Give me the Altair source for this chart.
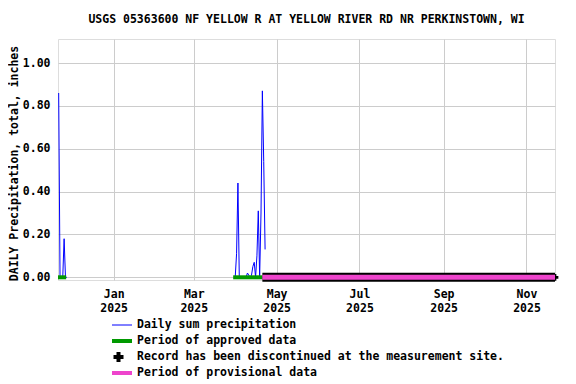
import altair as alt
import pandas as pd

FONT = "DejaVu Sans Mono"
TITLE = "USGS 05363600 NF YELLOW R AT YELLOW RIVER RD NR PERKINSTOWN, WI"
Y_TITLE = "DAILY Precipitation, total, inches"

# Daily sum precipitation (inches), two reporting segments
precip_dates_1 = ["2024-11-21", "2024-11-22", "2024-11-23", "2024-11-24",
                  "2024-11-25", "2024-11-26", "2024-11-27"]
precip_values_1 = [0.86, 0.0, 0.0, 0.0, 0.18, 0.0, 0.0]

precip_dates_2 = ["2025-03-30", "2025-03-31", "2025-04-01", "2025-04-02",
                  "2025-04-03", "2025-04-04", "2025-04-05", "2025-04-06",
                  "2025-04-07", "2025-04-08", "2025-04-09", "2025-04-10",
                  "2025-04-11", "2025-04-12", "2025-04-13", "2025-04-14",
                  "2025-04-15", "2025-04-16", "2025-04-17", "2025-04-18",
                  "2025-04-19", "2025-04-20", "2025-04-21", "2025-04-22"]
precip_values_2 = [0.0, 0.0, 0.11, 0.44, 0.0, 0.0, 0.0, 0.0,
                   0.0, 0.0, 0.02, 0.01, 0.0, 0.01, 0.05, 0.07,
                   0.0, 0.10, 0.31, 0.0, 0.30, 0.87, 0.54, 0.13]

approved_start = ["2024-11-21T00:00:00Z", "2025-03-30T00:00:00Z"]
approved_end = ["2024-11-27T00:00:00Z", "2025-04-20T12:00:00Z"]
provisional_start = ["2025-04-20T12:00:00Z"]
provisional_end = ["2025-11-22T00:00:00Z"]
discontinued_date = ["2025-11-22T00:00:00Z"]

x_domain = ["2024-11-21", "2025-11-22"]
x_tick_dates = ["2025-01-01", "2025-03-01", "2025-05-01",
                "2025-07-01", "2025-09-01", "2025-11-01"]
y_domain = [-0.0126, 1.112]
y_ticks = [0.0, 0.2, 0.4, 0.6, 0.8, 1.0]

legend_labels = ["Daily sum precipitation",
                 "Period of approved data",
                 "Record has been discontinued at the measurement site.",
                 "Period of provisional data"]


def ms(s):
    return int(pd.Timestamp(s, tz="UTC").value // 10**6)


precip_df = pd.DataFrame({
    "date": [d + "T12:00:00Z" for d in precip_dates_1 + precip_dates_2],
    "value": precip_values_1 + precip_values_2,
    "segment": [1] * len(precip_dates_1) + [2] * len(precip_dates_2),
})
approved_df = pd.DataFrame({"start": approved_start, "end": approved_end,
                            "value": [0.0] * len(approved_start)})
prov_df = pd.DataFrame({"start": provisional_start, "end": provisional_end,
                        "value": [0.0]})
disc_df = pd.DataFrame({"date": discontinued_date, "value": [0.0]})

x_scale = alt.Scale(type="utc", domain=[ms(d) for d in x_domain], nice=False)
y_scale = alt.Scale(domain=y_domain, nice=False, zero=False)

x_axis = alt.Axis(
    values=[ms(d) for d in x_tick_dates],
    labelExpr="[utcFormat(datum.value, '%b'), utcFormat(datum.value, '%Y')]",
    title=None, grid=True, gridColor="#cccccc", gridWidth=1,
    ticks=False, domain=False, labelFont=FONT, labelFontSize=11.5,
    labelFontWeight="bold", labelColor="black", labelPadding=8,
    labelLineHeight=14, labelAlign="center", labelBaseline="top",
    labelFlush=False, labelOverlap=False,
)
y_axis = alt.Axis(
    values=y_ticks, format=".2f", title=Y_TITLE, grid=True,
    gridColor="#cccccc", gridWidth=1, ticks=False, domain=False,
    labelFont=FONT, labelFontSize=11.5, labelFontWeight="bold",
    labelColor="black", labelPadding=8, labelOverlap=False,
    titleFont=FONT, titleFontSize=11.5, titleFontWeight="bold",
    titleColor="black", titleAngle=270, titleX=-44, titleY=124,
    titleAlign="center", titleBaseline="middle",
)

line = alt.Chart(precip_df).mark_line(color="#0000ff", strokeWidth=1, clip=True).encode(
    x=alt.X("date:T", scale=x_scale, axis=x_axis),
    y=alt.Y("value:Q", scale=y_scale, axis=y_axis),
    detail="segment:N",
)

approved = alt.Chart(approved_df).mark_rule(color="#009900", strokeWidth=4).encode(
    x=alt.X("start:T", scale=x_scale, axis=x_axis),
    x2="end:T",
    y=alt.Y("value:Q", scale=y_scale, axis=y_axis),
)

prov_black = alt.Chart(prov_df).mark_rule(color="black", strokeWidth=9).encode(
    x=alt.X("start:T", scale=x_scale, axis=x_axis),
    x2="end:T",
    y=alt.Y("value:Q", scale=y_scale, axis=y_axis),
)
disc = alt.Chart(disc_df).mark_point(shape="cross", filled=True, color="black",
                                     size=45, opacity=1).encode(
    x=alt.X("date:T", scale=x_scale, axis=x_axis),
    y=alt.Y("value:Q", scale=y_scale, axis=y_axis),
)
prov_pink = alt.Chart(prov_df).mark_rule(color="#ee44cc", strokeWidth=5).encode(
    x=alt.X("start:T", scale=x_scale, axis=x_axis),
    x2="end:T",
    y=alt.Y("value:Q", scale=y_scale, axis=y_axis),
)

# Legend (drawn below the plot)
leg_y = [286, 302, 318, 334]
leg_layers = []
one = alt.Data(values=[{"k": 0}])
leg_layers.append(alt.Chart(one).mark_rule(color="#0000ff", strokeWidth=1).encode(
    x=alt.value(54), x2=alt.value(74), y=alt.value(leg_y[0])))
leg_layers.append(alt.Chart(one).mark_rule(color="#009900", strokeWidth=4).encode(
    x=alt.value(54), x2=alt.value(74), y=alt.value(leg_y[1])))
leg_layers.append(alt.Chart(one).mark_point(shape="cross", filled=True, color="black",
                                            size=100, opacity=1).encode(
    x=alt.value(60.5), y=alt.value(leg_y[2])))
leg_layers.append(alt.Chart(one).mark_rule(color="#ee44cc", strokeWidth=4).encode(
    x=alt.value(54), x2=alt.value(74), y=alt.value(leg_y[3])))
for i, lab in enumerate(legend_labels):
    leg_layers.append(
        alt.Chart(alt.Data(values=[{"label": lab}])).mark_text(
            align="left", baseline="middle", font=FONT, fontSize=11.5,
            fontWeight="bold", color="black").encode(
            x=alt.value(79), y=alt.value(leg_y[i]), text="label:N"))

chart = alt.layer(line, approved, prov_black, disc, prov_pink, *leg_layers).properties(
    width=497, height=241,
    title=alt.TitleParams(TITLE, font=FONT, fontSize=11.5, fontWeight="bold",
                          color="black", anchor="middle", frame="group",
                          baseline="alphabetic", offset=5),
    autosize=alt.AutoSizeParams(type="none"),
    padding={"left": 50, "top": 31, "right": 10, "bottom": 101},
).configure_view(stroke="black", strokeWidth=1).configure(background="white")

chart.save("out.html", embed_options={"renderer": "svg", "actions": False})
